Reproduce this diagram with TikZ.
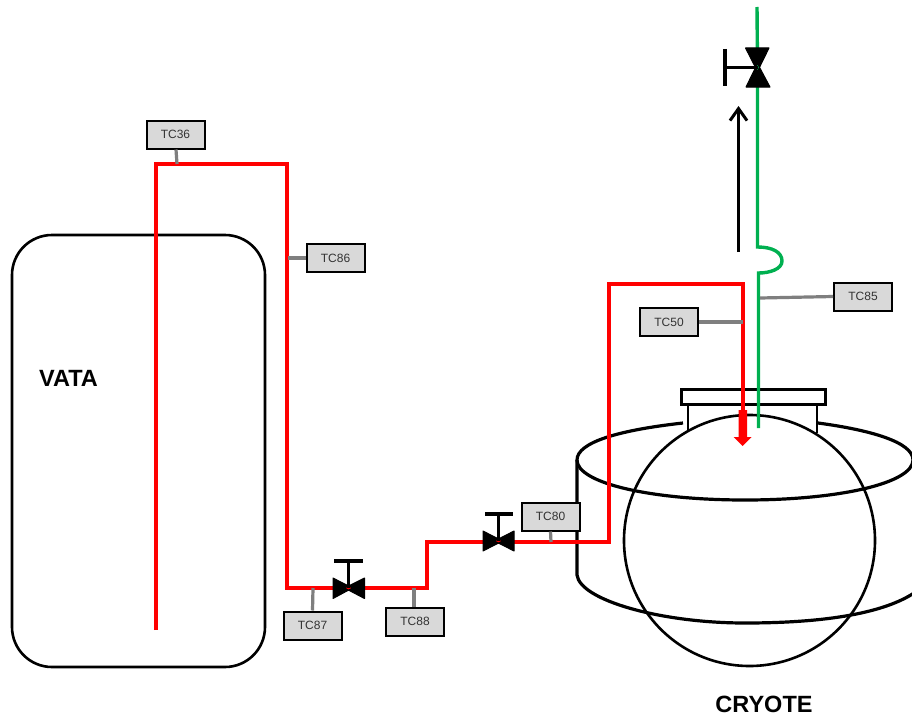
\documentclass[tikz,border=0pt]{standalone}
\usepackage{fontspec}
\setmainfont{Liberation Sans}
\usetikzlibrary{arrows.meta}
\definecolor{pipered}{HTML}{FF0000}
\definecolor{pipegreen}{HTML}{00B050}
\definecolor{tagfill}{HTML}{D9D9D9}
\definecolor{tagline}{HTML}{7F7F7F}
\tikzset{
  tag/.style={draw=black,line width=2pt,fill=tagfill,minimum width=58pt,minimum height=28pt,inner sep=0pt,text=black!80,font=\fontsize{12}{14}\selectfont},
  tagconn/.style={draw=tagline,line width=3.2pt},
  redpipe/.style={draw=pipered,line width=4pt,line join=miter},
  greenpipe/.style={draw=pipegreen,line width=3.4pt},
  vessel/.style={draw=black,line width=2.6pt},
  valvebody/.style={fill=black,draw=black,line width=1pt,line join=round},
  valvestem/.style={draw=black,line width=3.2pt},
  biglabel/.style={font=\bfseries\fontsize{23.5}{26}\selectfont,inner sep=0pt}
}
\begin{document}
\begin{tikzpicture}[x=1pt,y=-1pt]
\useasboundingbox (0,0) rectangle (912,717);
\clip (0,0) rectangle (912,717);
\fill[white] (0,0) rectangle (912,717);

% VATA tank
\draw[vessel,rounded corners=40pt] (12,235) rectangle (265,667);
\node[biglabel] (vata) at (68.5,378) {VATA};

% Cryote: cylinder
\draw[vessel,line width=3.2pt] (683,423) .. controls (620,430) and (577,442) .. (577,460)
  .. controls (577,483) and (650,500) .. (745,500)
  .. controls (840,500) and (913,483) .. (913,460)
  .. controls (913,442) and (870,430) .. (818,423);
\draw[vessel,line width=3.2pt] (577,460) -- (577,575)
  .. controls (580,600) and (660,623) .. (745,623)
  .. controls (830,623) and (885,612) .. (914,593);
% neck and flange
\draw[vessel] (688,404) -- (688,430);
\draw[vessel] (817,404) -- (817,433);
\draw[vessel,line width=3pt,fill=white] (681.5,389.5) rectangle (825.5,404);
% sphere
\draw[vessel] (749.5,540.5) circle[radius=125.5];
\node[biglabel] (cryote) at (764,704.5) {CRYOTE};

% Pipe junctions
\coordinate (a) at (156,630);
\coordinate (b) at (156,163.5);
\coordinate (c) at (287,163.5);
\coordinate (d) at (287,588);
\coordinate (v1) at (348.5,588);
\coordinate (e) at (427,588);
\coordinate (f) at (427,542);
\coordinate (v2) at (498.5,542);
\coordinate (g) at (608.5,542);
\coordinate (h) at (608.5,284);
\coordinate (i) at (743,284);
\coordinate (j) at (743,412);

% Red pipe
\draw[redpipe] (a) -- (b) -- (c) -- (d) -- (v1) -- (e) -- (f) -- (v2) -- (g) -- (h) -- (i) -- (j);
\fill[pipered] (738.5,410) -- (747,410) -- (747,437) -- (751.5,437) -- (742.5,446) -- (733.5,437) -- (738.5,437) -- cycle;

% Green pipe
\coordinate (g1) at (757,7);
\coordinate (v3) at (757.5,67.5);
\coordinate (g2) at (757.5,247);
\coordinate (g3) at (758.5,273);
\coordinate (g4) at (758.5,428);
\draw[greenpipe] (g1) -- (v3) -- (g2)
  .. controls (772,247) and (782,252) .. (782,261)
  .. controls (782,269) and (770,273) .. (g3) -- (g4);

% Flow arrow
\coordinate (fa) at (738.5,252);
\coordinate (fb) at (738.5,106);
\draw[draw=black,line width=3pt,-{Straight Barb[length=12pt,width=17pt]}] (fa) -- (fb);

% Valves
\fill[valvebody] (333,578) -- (352.5,588) -- (333,598.5) -- cycle (364.5,578) -- (344.5,588) -- (364.5,598.5) -- cycle;
\draw[valvestem] (v1) -- (348.5,561) (334,561) -- (363,561);
\fill[valvebody] (483,531) -- (502.5,541) -- (483,551) -- cycle (514,531) -- (494.5,541) -- (514,551) -- cycle;
\draw[valvestem] (498.5,541) -- (498.5,514) (485,514) -- (513,514);
\fill[valvebody] (745.5,48) -- (769,48) -- (757.5,71.5) -- cycle (746,87) -- (770,87) -- (757.5,63.5) -- cycle;
\draw[valvestem] (v3) -- (725,67.5) (725,49) -- (725,86);

% Tags
\node[tag] (tc36) at (175.5,134.5) {TC36};
\node[tag] (tc86) at (335.5,258) {TC86};
\node[tag] (tc87) at (312.5,625.5) {TC87};
\node[tag] (tc88) at (415,621.5) {TC88};
\node[tag] (tc80) at (550.5,516.5) {TC80};
\node[tag] (tc50) at (669,322) {TC50};
\node[tag] (tc85) at (863,296.5) {TC85};

\coordinate (p36) at (177,164);
\coordinate (p86) at (288,258);
\coordinate (p87) at (313,588);
\coordinate (p88) at (414,588);
\coordinate (p80) at (551,542);
\coordinate (p50) at (743,322);
\coordinate (p85) at (760,298);
\draw[tagconn] (tc36.south) ++(0.5,0) -- (p36);
\draw[tagconn] (tc86.west) -- (p86);
\draw[tagconn] (tc87.north) -- (p87);
\draw[tagconn] (tc88.north) ++(-1,0) -- (p88);
\draw[tagconn] (tc80.south) -- (p80);
\draw[tagconn] (tc50.east) -- (p50);
\draw[tagconn] (tc85.west) -- (p85);
\end{tikzpicture}
\end{document}
